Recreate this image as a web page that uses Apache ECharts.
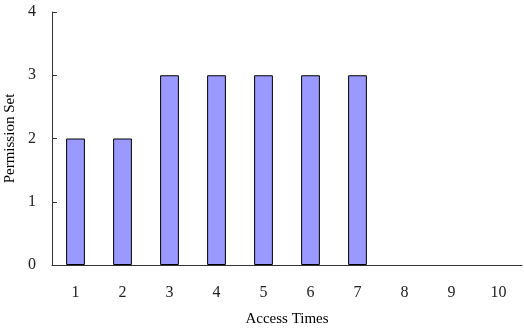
<!DOCTYPE html>
<html><head><meta charset="utf-8">
<script src="https://cdn.jsdelivr.net/npm/echarts@6/dist/echarts.min.js"></script>
<style>html,body{margin:0;padding:0;background:#fff}#c{width:524px;height:329px}</style>
</head><body><div id="c"></div>
<script>
const categories = ['1','2','3','4','5','6','7','8','9','10'];
const values = [2,2,3,3,3,3,3,0,0,0];
const yTicks = [0,1,2,3,4];
const xTitle = 'Access Times';
const yTitle = 'Permission Set';

const chart = echarts.init(document.getElementById('c'));
const font = '"Liberation Serif", "DejaVu Serif", serif';
chart.setOption({
  animation: false,
  grid: {left: 52, top: 12, right: 2, bottom: 64, containLabel: false, outerBoundsMode: 'none'},
  xAxis: {
    type: 'category', data: categories,
    name: xTitle, nameLocation: 'middle', nameGap: 47,
    nameTextStyle: {fontFamily: font, fontSize: 15, color: '#000'},
    axisLine: {lineStyle: {color: '#333', width: 1}},
    axisTick: {inside: true, length: 5, lineStyle: {color: '#333'}},
    axisLabel: {fontFamily: font, fontSize: 16, color: '#222', margin: 20}
  },
  yAxis: {
    type: 'value', min: 0, max: 4, interval: 1,
    name: yTitle, nameLocation: 'middle', nameGap: 30,
    nameTextStyle: {fontFamily: font, fontSize: 15, color: '#000'},
    axisLine: {show: true, lineStyle: {color: '#333', width: 1}},
    axisTick: {show: true, inside: true, length: 5, lineStyle: {color: '#333'}},
    splitLine: {show: false},
    axisLabel: {fontFamily: font, fontSize: 16, color: '#222', margin: 16,
      formatter: v => yTicks.includes(v) ? String(v) : ''}
  },
  series: [{
    type: 'bar', barWidth: '40%',
    data: values.map(v => v === 0 ? {value: v, itemStyle: {borderWidth: 0}} : v),
    itemStyle: {color: '#9999FF', borderColor: '#000', borderWidth: 1}
  }]
});
</script></body></html>
